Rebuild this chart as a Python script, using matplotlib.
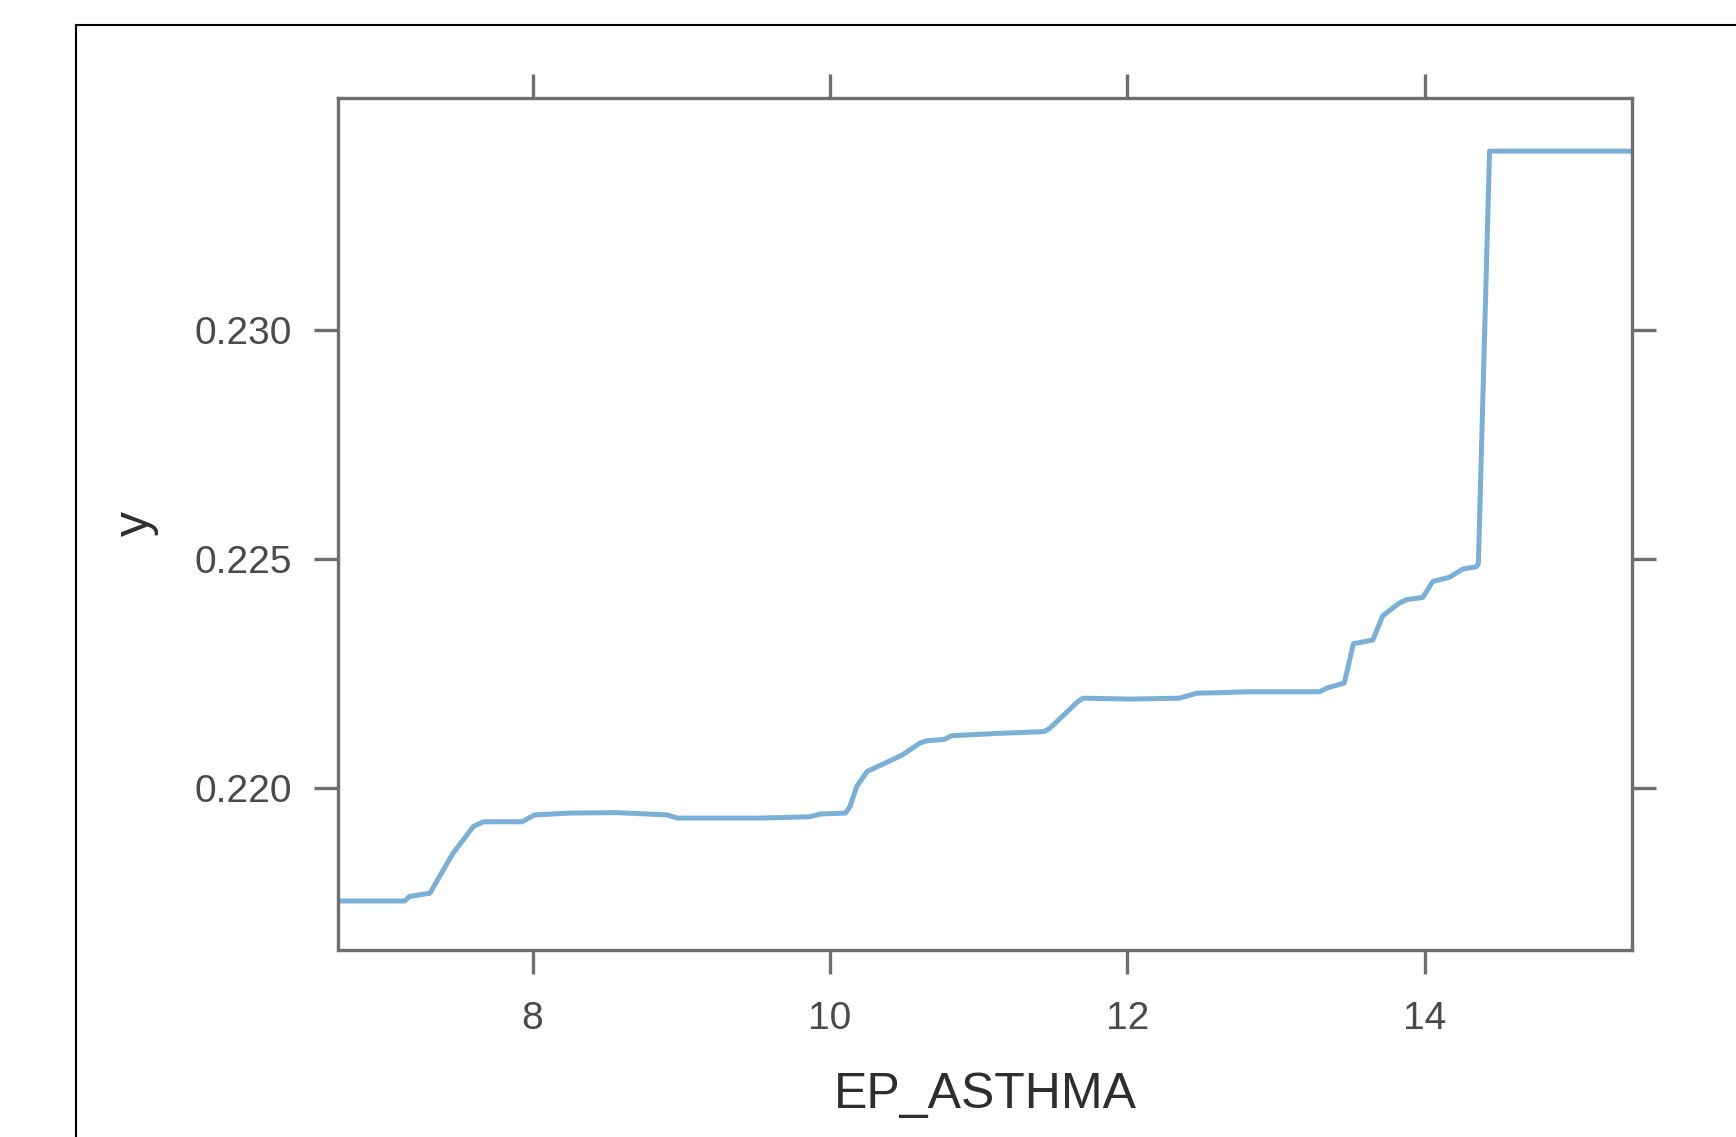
import numpy as np
import matplotlib
matplotlib.use('Agg')
import matplotlib.pyplot as plt
from matplotlib.lines import Line2D

# partial dependence values
ep_asthma = [6.69, 7.14, 7.174, 7.31, 7.465, 7.603, 7.67, 7.929, 8.014, 8.254,
             8.563, 8.905, 8.975, 9.523, 9.866, 9.934, 10.105, 10.134, 10.18, 10.25,
             10.369, 10.487, 10.605, 10.652, 10.77, 10.817, 11.124, 11.44, 11.477, 11.665,
             11.70, 12.019, 12.349, 12.468, 12.632, 12.798, 13.293, 13.34, 13.458, 13.52,
             13.65, 13.717, 13.82, 13.874, 13.986, 14.053, 14.165, 14.255, 14.345, 14.36,
             14.435, 15.40]
y_hat = [0.21753, 0.21753, 0.21763, 0.2177, 0.21857, 0.21916, 0.21926, 0.21926, 0.21941, 0.21945,
         0.21946, 0.21941, 0.21934, 0.21934, 0.21937, 0.21943, 0.21945, 0.21959, 0.22003, 0.22036,
         0.22054, 0.22072, 0.22098, 0.22103, 0.22106, 0.22114, 0.22119, 0.22123, 0.2213, 0.22188,
         0.22196, 0.22194, 0.22196, 0.22207, 0.22208, 0.2221, 0.2221, 0.22218, 0.22229, 0.22315,
         0.22323, 0.22376, 0.22402, 0.22411, 0.22416, 0.22451, 0.2246, 0.22478, 0.22483, 0.2249,
         0.23391, 0.23391]

x_ticks = [8, 10, 12, 14]
y_ticks = [0.220, 0.225, 0.230]
y_tick_labels = ['0.220', '0.225', '0.230']

plt.rcParams['font.family'] = ['Liberation Sans', 'DejaVu Sans']

fig = plt.figure(figsize=(17.36, 11.37), dpi=100)
ax = fig.add_axes([0.1947, 0.1645, 0.7454, 0.7497])

ax.plot(ep_asthma, y_hat, color='#7aafd8', lw=3.6, solid_joinstyle='round')

ax.set_xlim(6.692, 15.393)
ax.set_ylim(0.21646, 0.23508)
ax.set_xticks(x_ticks)
ax.set_yticks(y_ticks)
ax.set_yticklabels(y_tick_labels)

for s in ax.spines.values():
    s.set_color('#6e6e6e')
    s.set_linewidth(2.4)

ax.tick_params(direction='out', length=17, width=2.4, color='#6e6e6e',
               top=True, right=True, labelsize=28, labelcolor='#4a4a4a')
ax.tick_params(axis='x', pad=20)
ax.tick_params(axis='y', pad=16)

ax.set_xlabel('EP_ASTHMA', fontsize=36, color='#2e2e2e', labelpad=25)
ax.set_ylabel('y', fontsize=36, color='#2e2e2e', labelpad=26)

# outer frame of the screenshot
fig.add_artist(Line2D([76 / 1736, 76 / 1736], [0, 1 - 25 / 1137], color='black', lw=1.5))
fig.add_artist(Line2D([76 / 1736, 1], [1 - 25 / 1137, 1 - 25 / 1137], color='black', lw=1.5))

fig.savefig('out.png', dpi=100)
